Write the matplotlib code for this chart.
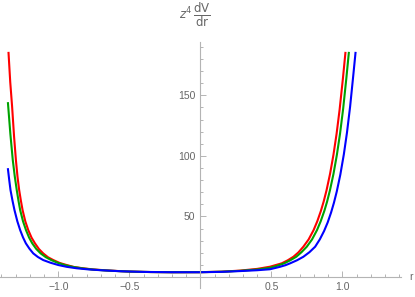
import matplotlib
matplotlib.use('Agg')
import matplotlib.pyplot as plt
from matplotlib.ticker import FixedLocator

# values (r, z^4 dV/dr); the curves stop at the top of the plot range
r_red = [-1.350, -1.338, -1.325, -1.311, -1.298, -1.287, -1.275, -1.263, -1.251, -1.232,
         -1.211, -1.188, -1.164, -1.136, -1.106, -1.072, -1.035, -0.990, -0.941, -0.890,
         -0.826, -0.750, -0.660, -0.580, -0.500, -0.350, -0.200, 0.000, 0.150, 0.280,
         0.400, 0.490, 0.573, 0.615, 0.655, 0.690, 0.725, 0.762, 0.797, 0.823,
         0.848, 0.868, 0.888, 0.913, 0.937, 0.959, 0.980, 1.003, 1.021]
v_red = [185, 161, 141, 116, 96.5, 83, 71.7, 63, 55.2, 46,
         38.7, 32.5, 27.8, 23.1, 19.5, 16.3, 14.0, 11.6, 9.9, 8.3,
         7.2, 6.2, 5.5, 4.95, 4.5, 4.1, 3.95, 4.0, 4.4, 5.3,
         6.7, 8.5, 11.3, 13.8, 16.7, 20.3, 25.0, 31, 38.7, 46,
         54.4, 62.3, 71.5, 85.2, 101, 118.3, 138, 163.4, 185]

r_green = [-1.354, -1.337, -1.320, -1.306, -1.292, -1.280, -1.268, -1.248, -1.227, -1.205,
           -1.183, -1.155, -1.124, -1.088, -1.050, -1.003, -0.955, -0.900, -0.835, -0.760,
           -0.665, -0.580, -0.500, -0.350, -0.200, 0.000, 0.150, 0.280, 0.400, 0.490,
           0.540, 0.590, 0.633, 0.675, 0.712, 0.749, 0.786, 0.821, 0.847, 0.873,
           0.892, 0.912, 0.937, 0.961, 0.983, 1.005, 1.027, 1.045]
v_green = [143.5, 118, 96.5, 83, 71.7, 63, 55.2, 46, 38.7, 32.5,
           27.8, 23.2, 19.5, 16.4, 14.0, 11.7, 9.9, 8.4, 7.2, 6.2,
           5.4, 4.9, 4.5, 4.1, 3.95, 4.0, 4.35, 5.1, 6.2, 7.6,
           9.2, 11.3, 13.8, 16.7, 20.5, 25.0, 31, 38.7, 46, 54.7,
           62.2, 71.5, 85.1, 100.9, 118.2, 138.8, 163.4, 185]

r_blue = [-1.354, -1.345, -1.336, -1.322, -1.308, -1.288, -1.268, -1.248, -1.228, -1.203,
          -1.176, -1.143, -1.106, -1.055, -1.000, -0.940, -0.870, -0.790, -0.700, -0.620,
          -0.550, -0.400, -0.200, 0.000, 0.150, 0.280, 0.400, 0.490, 0.560, 0.600,
          0.632, 0.680, 0.725, 0.768, 0.808, 0.841, 0.871, 0.896, 0.920, 0.940,
          0.960, 0.985, 1.010, 1.032, 1.054, 1.076, 1.092]
v_blue = [89.0, 80, 71.7, 63, 55.2, 46, 38.7, 32.7, 27.8, 23.4,
          19.5, 16.5, 14.0, 11.8, 9.9, 8.4, 7.2, 6.3, 5.6, 5.1,
          4.7, 4.2, 3.95, 3.95, 4.25, 4.9, 5.6, 6.4, 8.4, 9.8,
          11.3, 13.8, 16.7, 20.5, 25.0, 31.1, 38.0, 45.0, 53.2, 61.2,
          70.5, 84.4, 101.3, 119.2, 140.6, 166, 185]

x_major = [-1.0, -0.5, 0.5, 1.0]
x_labels = ['\u22121.0', '\u22120.5', '0.5', '1.0']
y_major = [50, 100, 150]
y_labels = ['50', '100', '150']

axis_gray = '#b4b4b4'
text_gray = '#666666'
plt.rcParams['font.family'] = ['Liberation Sans', 'DejaVu Sans']

fig = plt.figure(figsize=(4.15, 2.97), dpi=100)
ax = fig.add_axes([0.0, 0.0306, 0.9655, 0.828])

ax.plot(r_red, v_red, color='#ff0000', lw=1.5, solid_joinstyle='round')
ax.plot(r_green, v_green, color='#00a300', lw=1.5, solid_joinstyle='round')
ax.plot(r_blue, v_blue, color='#0000ff', lw=1.5, solid_joinstyle='round')

ax.set_xlim(-1.41, 1.41)
ax.set_ylim(-9, 194)

# axes cross at the origin, like a Mathematica plot
for side in ['top', 'right']:
    ax.spines[side].set_visible(False)
ax.spines['left'].set_position(('data', 0))
ax.spines['bottom'].set_position(('data', 0))
for side in ['left', 'bottom']:
    ax.spines[side].set_color(axis_gray)
    ax.spines[side].set_linewidth(0.8)

ax.xaxis.set_major_locator(FixedLocator(x_major))
ax.set_xticklabels(x_labels)
ax.xaxis.set_minor_locator(FixedLocator([i / 10 for i in range(-14, 15)]))
ax.yaxis.set_major_locator(FixedLocator(y_major))
ax.set_yticklabels(y_labels)
ax.yaxis.set_minor_locator(FixedLocator(list(range(10, 191, 10))))

ax.tick_params(which='both', direction='in', color=axis_gray, width=0.7,
               labelsize=7.5, labelcolor=text_gray)
ax.tick_params(which='major', length=4, pad=3.5)
ax.tick_params(which='minor', length=2.3)

# axis labels
ax.annotate('r', xy=(1.0, 0.0), xycoords=ax.get_yaxis_transform(),
            xytext=(6, 0), textcoords='offset points', ha='left', va='center',
            fontsize=7.5, color=text_gray, annotation_clip=False)
ax.annotate(r'$z^4\,\dfrac{\mathrm{dV}}{\mathrm{dr}}$', xy=(0.0, 1.0),
            xycoords=ax.get_xaxis_transform(), xytext=(-4, 19),
            textcoords='offset points', ha='center', va='center',
            fontsize=8.5, color=text_gray, annotation_clip=False)

fig.savefig('out.png', dpi=100)
